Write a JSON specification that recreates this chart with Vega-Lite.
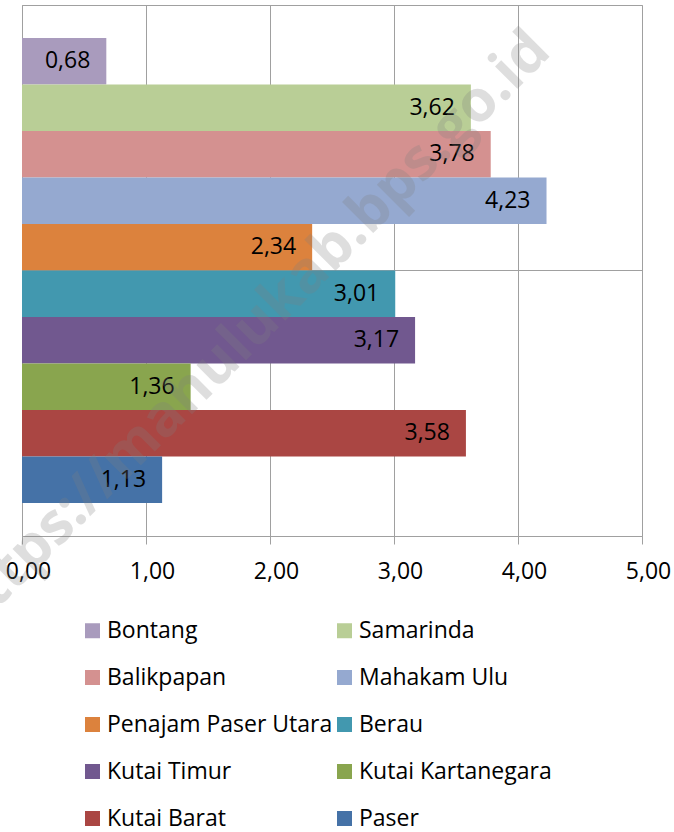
{
  "$schema": "https://vega.github.io/schema/vega-lite/v6.json",
  "width": 620,
  "height": 531,
  "autosize": {"type": "none"},
  "padding": {"left": 22, "top": 5, "right": 32, "bottom": 296},
  "config": {
    "locale": {"number": {"decimal": ",", "thousands": ".", "grouping": [3], "currency": ["", ""]}},
    "view": {"stroke": "#A0A0A0", "strokeWidth": 1},
    "font": "Open Sans"
  },
  "data": {
    "values": [
      {"name": "Bontang", "value": 0.68},
      {"name": "Samarinda", "value": 3.62},
      {"name": "Balikpapan", "value": 3.78},
      {"name": "Mahakam Ulu", "value": 4.23},
      {"name": "Penajam Paser Utara", "value": 2.34},
      {"name": "Berau", "value": 3.01},
      {"name": "Kutai Timur", "value": 3.17},
      {"name": "Kutai Kartanegara", "value": 1.36},
      {"name": "Kutai Barat", "value": 3.58},
      {"name": "Paser", "value": 1.13}
    ]
  },
  "layer": [
    {
      "data": {"values": [{"name": "Berau"}]},
      "mark": {"type": "rule", "color": "#A0A0A0", "strokeWidth": 1},
      "encoding": {
        "y": {"field": "name", "type": "nominal", "bandPosition": 0,
          "scale": {"domain": ["Bontang", "Samarinda", "Balikpapan", "Mahakam Ulu", "Penajam Paser Utara", "Berau", "Kutai Timur", "Kutai Kartanegara", "Kutai Barat", "Paser"], "paddingInner": 0, "paddingOuter": 0.71},
          "axis": {"labels": false, "ticks": false, "title": null, "grid": false, "domainColor": "#A0A0A0"}}
      }
    },
    {
      "mark": {"type": "bar"},
      "encoding": {
        "x": {"field": "value", "type": "quantitative",
          "scale": {"domain": [0, 5], "nice": false},
          "axis": {"values": [0, 1, 2, 3, 4, 5], "format": ".2f", "title": null, "grid": true, "gridColor": "#A0A0A0", "gridOpacity": 1, "domainColor": "#A0A0A0", "tickColor": "#A0A0A0", "tickSize": 8, "labelFontSize": 23, "labelColor": "#000000", "labelPadding": 16, "labelFlush": false, "labelOffset": 6}},
        "y": {"field": "name", "type": "nominal",
          "scale": {"domain": ["Bontang", "Samarinda", "Balikpapan", "Mahakam Ulu", "Penajam Paser Utara", "Berau", "Kutai Timur", "Kutai Kartanegara", "Kutai Barat", "Paser"], "paddingInner": 0, "paddingOuter": 0.71},
          "axis": {"labels": false, "ticks": false, "title": null, "grid": false, "domainColor": "#A0A0A0"}},
        "color": {"field": "name", "type": "nominal",
          "scale": {"domain": ["Bontang", "Samarinda", "Balikpapan", "Mahakam Ulu", "Penajam Paser Utara", "Berau", "Kutai Timur", "Kutai Kartanegara", "Kutai Barat", "Paser"],
            "range": ["#A99BBD", "#B9CE96", "#D49190", "#95A9D0", "#DC823D", "#4298AF", "#71588F", "#89A54E", "#AA4643", "#4572A7"]},
          "legend": {"title": null, "orient": "none", "legendX": 59, "legendY": 614, "columns": 2, "direction": "horizontal",
            "symbolType": "square", "symbolSize": 225, "symbolStrokeWidth": 0, "labelFontSize": 23, "labelColor": "#000000",
            "rowPadding": 23, "columnPadding": -4, "labelOffset": 3, "labelLimit": 400}}
      }
    },
    {
      "mark": {"type": "text", "align": "right", "baseline": "middle", "dx": -16, "fontSize": 23, "color": "#000000"},
      "encoding": {
        "x": {"field": "value", "type": "quantitative"},
        "y": {"field": "name", "type": "nominal",
          "scale": {"domain": ["Bontang", "Samarinda", "Balikpapan", "Mahakam Ulu", "Penajam Paser Utara", "Berau", "Kutai Timur", "Kutai Kartanegara", "Kutai Barat", "Paser"], "paddingInner": 0, "paddingOuter": 0.71}},
        "text": {"field": "value", "type": "quantitative", "format": ".2f"}
      }
    },
    {
      "data": {"values": [{"name": "Kutai Timur", "value": 1.83, "wm": "https://mahulukab.bps.go.id"}]},
      "mark": {"type": "text", "align": "center", "baseline": "middle", "angle": -45, "fontSize": 58, "fontWeight": "bold", "font": "Open Sans", "color": "#808080", "opacity": 0.25},
      "encoding": {
        "x": {"field": "value", "type": "quantitative"},
        "y": {"field": "name", "type": "nominal", "bandPosition": 0.35,
          "scale": {"domain": ["Bontang", "Samarinda", "Balikpapan", "Mahakam Ulu", "Penajam Paser Utara", "Berau", "Kutai Timur", "Kutai Kartanegara", "Kutai Barat", "Paser"], "paddingInner": 0, "paddingOuter": 0.71}},
        "text": {"field": "wm", "type": "nominal"}
      }
    }
  ]
}
